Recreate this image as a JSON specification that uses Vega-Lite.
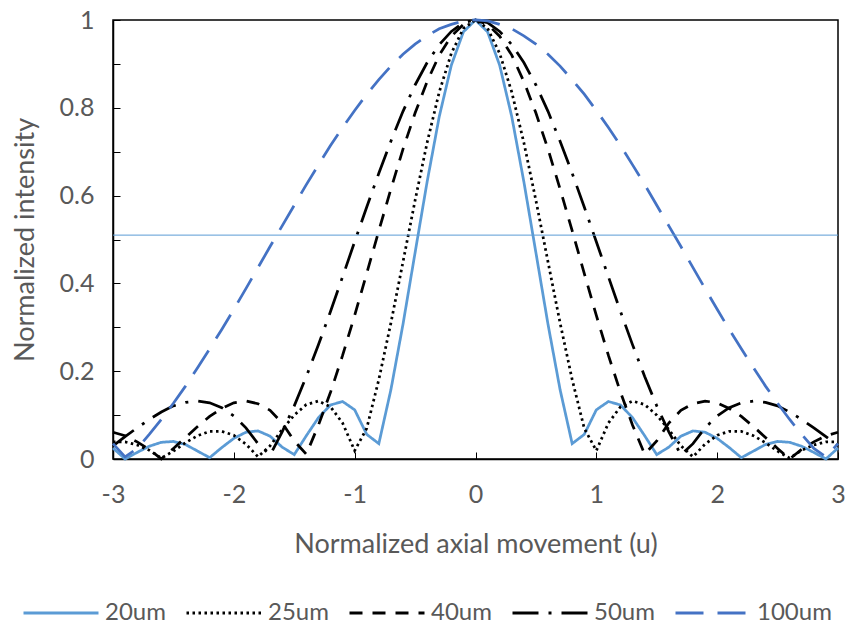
{
  "$schema": "https://vega.github.io/schema/vega-lite/v6.json",
  "width": 725,
  "height": 439,
  "autosize": {"type": "none"},
  "padding": {"left": 113, "top": 20, "right": 9, "bottom": 178},
  "background": "white",
  "config": {
    "view": {"stroke": "black", "strokeWidth": 1.5},
    "font": "Lato",
    "axis": {
      "grid": false,
      "domainColor": "black",
      "domainWidth": 1.5,
      "tickColor": "black",
      "tickWidth": 1,
      "labelColor": "#595959",
      "titleColor": "#595959",
      "labelFont": "Lato",
      "titleFont": "Lato",
      "labelFontSize": 25,
      "titleFontSize": 27,
      "titleFontWeight": "normal",
      "labelFlush": false,
      "labelOverlap": false
    },
    "legend": {
      "labelFont": "Lato",
      "labelFontSize": 24,
      "labelColor": "#595959"
    }
  },
  "layer": [
    {
      "data": {
        "values": [
          {"u": -3.0, "20um": 0.025, "25um": 0.039, "40um": 0.061, "50um": 0.030, "100um": 0.035},
          {"u": -2.9, "20um": 0.000, "25um": 0.039, "40um": 0.053, "50um": 0.051, "100um": 0.005},
          {"u": -2.8, "20um": 0.015, "25um": 0.032, "40um": 0.039, "50um": 0.071, "100um": 0.024},
          {"u": -2.7, "20um": 0.029, "25um": 0.020, "40um": 0.022, "50um": 0.090, "100um": 0.056},
          {"u": -2.6, "20um": 0.038, "25um": 0.002, "40um": 0.000, "50um": 0.107, "100um": 0.090},
          {"u": -2.5, "20um": 0.040, "25um": 0.018, "40um": 0.024, "50um": 0.121, "100um": 0.127},
          {"u": -2.4, "20um": 0.033, "25um": 0.037, "40um": 0.049, "50um": 0.129, "100um": 0.166},
          {"u": -2.3, "20um": 0.018, "25um": 0.053, "40um": 0.074, "50um": 0.132, "100um": 0.208},
          {"u": -2.2, "20um": 0.003, "25um": 0.063, "40um": 0.097, "50um": 0.128, "100um": 0.251},
          {"u": -2.1, "20um": 0.026, "25um": 0.063, "40um": 0.115, "50um": 0.117, "100um": 0.295},
          {"u": -2.0, "20um": 0.047, "25um": 0.054, "40um": 0.128, "50um": 0.098, "100um": 0.341},
          {"u": -1.9, "20um": 0.061, "25um": 0.034, "40um": 0.132, "50um": 0.071, "100um": 0.388},
          {"u": -1.8, "20um": 0.064, "25um": 0.005, "40um": 0.126, "50um": 0.035, "100um": 0.436},
          {"u": -1.7, "20um": 0.052, "25um": 0.030, "40um": 0.111, "50um": 0.009, "100um": 0.484},
          {"u": -1.6, "20um": 0.027, "25um": 0.067, "40um": 0.082, "50um": 0.062, "100um": 0.531},
          {"u": -1.5, "20um": 0.010, "25um": 0.100, "40um": 0.041, "50um": 0.121, "100um": 0.578},
          {"u": -1.4, "20um": 0.053, "25um": 0.124, "40um": 0.011, "50um": 0.188, "100um": 0.625},
          {"u": -1.3, "20um": 0.094, "25um": 0.132, "40um": 0.077, "50um": 0.260, "100um": 0.670},
          {"u": -1.2, "20um": 0.123, "25um": 0.119, "40um": 0.152, "50um": 0.336, "100um": 0.714},
          {"u": -1.1, "20um": 0.131, "25um": 0.082, "40um": 0.236, "50um": 0.415, "100um": 0.755},
          {"u": -1.0, "20um": 0.112, "25um": 0.019, "40um": 0.327, "50um": 0.495, "100um": 0.794},
          {"u": -0.9, "20um": 0.056, "25um": 0.070, "40um": 0.423, "50um": 0.574, "100um": 0.831},
          {"u": -0.8, "20um": 0.035, "25um": 0.181, "40um": 0.520, "50um": 0.651, "100um": 0.864},
          {"u": -0.7, "20um": 0.158, "25um": 0.310, "40um": 0.615, "50um": 0.724, "100um": 0.895},
          {"u": -0.6, "20um": 0.307, "25um": 0.449, "40um": 0.706, "50um": 0.792, "100um": 0.922},
          {"u": -0.5, "20um": 0.470, "25um": 0.589, "40um": 0.788, "50um": 0.852, "100um": 0.945},
          {"u": -0.4, "20um": 0.632, "25um": 0.721, "40um": 0.860, "50um": 0.903, "100um": 0.964},
          {"u": -0.3, "20um": 0.780, "25um": 0.836, "40um": 0.920, "50um": 0.944, "100um": 0.980},
          {"u": -0.2, "20um": 0.897, "25um": 0.924, "40um": 0.963, "50um": 0.974, "100um": 0.990},
          {"u": -0.1, "20um": 0.973, "25um": 0.981, "40um": 0.990, "50um": 0.994, "100um": 0.998},
          {"u": 0.0, "20um": 1.000, "25um": 1.000, "40um": 1.000, "50um": 1.000, "100um": 1.000},
          {"u": 0.1, "20um": 0.973, "25um": 0.981, "40um": 0.990, "50um": 0.994, "100um": 0.998},
          {"u": 0.2, "20um": 0.897, "25um": 0.924, "40um": 0.963, "50um": 0.974, "100um": 0.990},
          {"u": 0.3, "20um": 0.780, "25um": 0.836, "40um": 0.920, "50um": 0.944, "100um": 0.980},
          {"u": 0.4, "20um": 0.632, "25um": 0.721, "40um": 0.860, "50um": 0.903, "100um": 0.964},
          {"u": 0.5, "20um": 0.470, "25um": 0.589, "40um": 0.788, "50um": 0.852, "100um": 0.945},
          {"u": 0.6, "20um": 0.307, "25um": 0.449, "40um": 0.706, "50um": 0.792, "100um": 0.922},
          {"u": 0.7, "20um": 0.158, "25um": 0.310, "40um": 0.615, "50um": 0.724, "100um": 0.895},
          {"u": 0.8, "20um": 0.035, "25um": 0.181, "40um": 0.520, "50um": 0.651, "100um": 0.864},
          {"u": 0.9, "20um": 0.056, "25um": 0.070, "40um": 0.423, "50um": 0.574, "100um": 0.831},
          {"u": 1.0, "20um": 0.112, "25um": 0.019, "40um": 0.327, "50um": 0.495, "100um": 0.794},
          {"u": 1.1, "20um": 0.131, "25um": 0.082, "40um": 0.236, "50um": 0.415, "100um": 0.755},
          {"u": 1.2, "20um": 0.123, "25um": 0.119, "40um": 0.152, "50um": 0.336, "100um": 0.714},
          {"u": 1.3, "20um": 0.094, "25um": 0.132, "40um": 0.077, "50um": 0.260, "100um": 0.670},
          {"u": 1.4, "20um": 0.053, "25um": 0.124, "40um": 0.011, "50um": 0.188, "100um": 0.625},
          {"u": 1.5, "20um": 0.010, "25um": 0.100, "40um": 0.041, "50um": 0.121, "100um": 0.578},
          {"u": 1.6, "20um": 0.027, "25um": 0.067, "40um": 0.082, "50um": 0.062, "100um": 0.531},
          {"u": 1.7, "20um": 0.052, "25um": 0.030, "40um": 0.111, "50um": 0.009, "100um": 0.484},
          {"u": 1.8, "20um": 0.064, "25um": 0.005, "40um": 0.126, "50um": 0.035, "100um": 0.436},
          {"u": 1.9, "20um": 0.061, "25um": 0.034, "40um": 0.132, "50um": 0.071, "100um": 0.388},
          {"u": 2.0, "20um": 0.047, "25um": 0.054, "40um": 0.128, "50um": 0.098, "100um": 0.341},
          {"u": 2.1, "20um": 0.026, "25um": 0.063, "40um": 0.115, "50um": 0.117, "100um": 0.295},
          {"u": 2.2, "20um": 0.003, "25um": 0.063, "40um": 0.097, "50um": 0.128, "100um": 0.251},
          {"u": 2.3, "20um": 0.018, "25um": 0.053, "40um": 0.074, "50um": 0.132, "100um": 0.208},
          {"u": 2.4, "20um": 0.033, "25um": 0.037, "40um": 0.049, "50um": 0.129, "100um": 0.166},
          {"u": 2.5, "20um": 0.040, "25um": 0.018, "40um": 0.024, "50um": 0.121, "100um": 0.127},
          {"u": 2.6, "20um": 0.038, "25um": 0.002, "40um": 0.000, "50um": 0.107, "100um": 0.090},
          {"u": 2.7, "20um": 0.029, "25um": 0.020, "40um": 0.022, "50um": 0.090, "100um": 0.056},
          {"u": 2.8, "20um": 0.015, "25um": 0.032, "40um": 0.039, "50um": 0.071, "100um": 0.024},
          {"u": 2.9, "20um": 0.000, "25um": 0.039, "40um": 0.053, "50um": 0.051, "100um": 0.005},
          {"u": 3.0, "20um": 0.025, "25um": 0.039, "40um": 0.061, "50um": 0.030, "100um": 0.035}
        ]
      },
      "transform": [
        {"fold": ["20um", "25um", "40um", "50um", "100um"], "as": ["series", "value"]}
      ],
      "mark": {"type": "line", "strokeWidth": 2.75},
      "encoding": {
        "x": {
          "field": "u",
          "type": "quantitative",
          "scale": {"domain": [-3, 3], "nice": false, "zero": false},
          "axis": {
            "title": "Normalized axial movement (u)",
            "values": [-3, -2, -1, 0, 1, 2, 3],
            "labelExpr": "'' + datum.value",
            "tickSize": -7,
            "labelPadding": 30,
            "titlePadding": 24
          }
        },
        "y": {
          "field": "value",
          "type": "quantitative",
          "scale": {"domain": [0, 1], "nice": false},
          "axis": {
            "title": "Normalized intensity",
            "values": [0, 0.1, 0.2, 0.3, 0.4, 0.5, 0.6, 0.7, 0.8, 0.9, 1],
            "labelExpr": "round(datum.value * 10) % 2 == 0 ? '' + datum.value : ''",
            "tickSize": -7,
            "labelPadding": 26,
            "titlePadding": 20
          }
        },
        "color": {
          "field": "series",
          "type": "nominal",
          "sort": ["20um", "25um", "40um", "50um", "100um"],
          "scale": {
            "domain": ["20um", "25um", "40um", "50um", "100um"],
            "range": ["#5B9BD5", "#000000", "#000000", "#000000", "#4472C4"]
          },
          "legend": {
            "title": null,
            "orient": "none",
            "direction": "horizontal",
            "legendX": -91,
            "legendY": 554,
            "symbolType": "stroke",
            "symbolSize": 5625,
            "symbolStrokeWidth": 3,
            "labelOffset": 5,
            "columnPadding": 14
          }
        },
        "strokeDash": {
          "field": "series",
          "type": "nominal",
          "sort": ["20um", "25um", "40um", "50um", "100um"],
          "scale": {
            "domain": ["20um", "25um", "40um", "50um", "100um"],
            "range": [[1, 0], [2.5, 3.5], [13, 10], [26, 10, 3, 10], [28, 14]]
          },
          "legend": {
            "title": null,
            "orient": "none",
            "direction": "horizontal",
            "legendX": -91,
            "legendY": 554,
            "symbolType": "stroke",
            "symbolSize": 5625,
            "symbolStrokeWidth": 3,
            "labelOffset": 5,
            "columnPadding": 14
          }
        }
      }
    },
    {
      "data": {"values": [{"level": 0.51}]},
      "mark": {"type": "rule", "color": "#5B9BD5", "strokeWidth": 1},
      "encoding": {
        "y": {"field": "level", "type": "quantitative"}
      }
    }
  ]
}
